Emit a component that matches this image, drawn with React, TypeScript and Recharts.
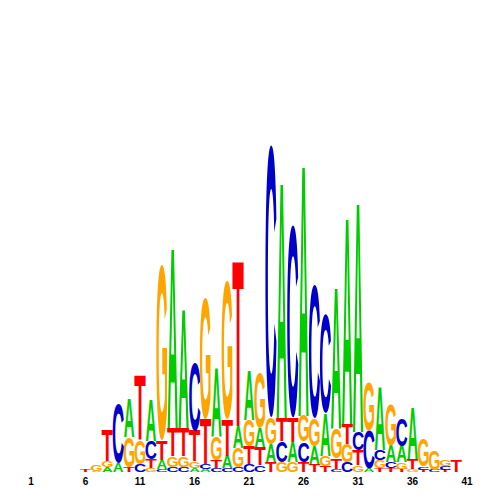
import { Bar, BarChart, XAxis, YAxis } from "recharts";

// Sequence logo, heights in bits (~170 px per bit).
const positions = [
  1, 2, 3, 4, 5, 6, 7, 8, 9, 10, 11, 12, 13, 14, 15, 16, 17, 18, 19, 20, 21,
  22, 23, 24, 25, 26, 27, 28, 29, 30, 31, 32, 33, 34, 35, 36, 37, 38, 39, 40, 41,
];

const A = [
  0, 0, 0, 0, 0, 0, 0.006, 0.029, 0.053, 0.224, 0, 0.241, 0.053, 1.047, 0.694,
  0.024, 0.018, 0.4, 0.071, 0.129, 0.282, 0.112, 0.106, 1.371, 0.118, 1.459,
  0.106, 0.247, 0.818, 1.2, 1.335, 0.018, 0.365, 0.094, 0.094, 0.3, 0, 0, 0, 0, 0,
];
const C = [
  0, 0, 0, 0, 0, 0, 0, 0, 0.353, 0, 0.047, 0.106, 0.018, 0.029, 0.029, 0.406,
  0.029, 0.024, 0.024, 0.029, 0.047, 0.041, 1.606, 0.124, 1.135, 0.118, 0.782,
  0.582, 0.018, 0.059, 0.106, 0.224, 0.059, 0.035, 0.165, 0, 0.018, 0.012, 0.024, 0, 0,
];
const G = [
  0, 0, 0, 0, 0, 0, 0.035, 0.035, 0, 0.176, 0.141, 0.024, 1.035, 0.065, 0.065,
  0.041, 0.712, 0.141, 0.818, 0.112, 0.153, 0.329, 0.153, 0.059, 0.059, 0.153,
  0.165, 0.059, 0.176, 0.106, 0.041, 0.288, 0.047, 0.241, 0.041, 0.018, 0.159,
  0.112, 0.041, 0, 0,
];
const T = [
  0, 0, 0, 0, 0, 0.012, 0, 0.182, 0, 0.029, 0.376, 0.053, 0.112, 0.165, 0.165,
  0.176, 0.265, 0.047, 0.212, 0.959, 0.106, 0.106, 0.059, 0.135, 0.141, 0.059,
  0.047, 0.035, 0.059, 0.118, 0.088, 0, 0.024, 0.024, 0.018, 0.059, 0.012, 0,
  0.012, 0.065, 0,
];

const heights: Record<string, number[]> = { A, C, G, T };
const LETTERS = ["A", "C", "G", "T"];
const COLORS: Record<string, string> = {
  A: "#00CC00",
  C: "#0000CC",
  G: "#FFA500",
  T: "#FF0000",
};
// glyph ink box of Liberation Sans Bold, in em (round letters overshoot the baseline)
const INK: Record<string, number> = { A: 0.72, C: 0.635, G: 0.685, T: 0.57 };
const TALL: Record<string, number> = { A: 0.688, C: 0.712, G: 0.712, T: 0.688 };
const DROP: Record<string, number> = { A: 0, C: 0.012, G: 0.012, T: 0 };

// smallest letter at the bottom of each column
const rows = positions.map((pos, i) => {
  const stack = LETTERS.map((l) => ({ l, h: heights[l][i] })).sort((a, b) => a.h - b.h);
  const row: Record<string, string | number> = { pos: String(pos) };
  stack.forEach((s, j) => {
    row[`h${j}`] = s.h;
    row[`k${j}`] = s.l;
  });
  return row;
});

const glyph = (layer: number) => (props: any) => {
  const { x, y, width, height, payload } = props;
  if (!height || height < 0.4) return <g />;
  const letter = payload[`k${layer}`] as string;
  const sx = (width * 0.98) / (INK[letter] * 100);
  const sy = height / (TALL[letter] * 100);
  const base = y + height - DROP[letter] * 100 * sy;
  return (
    <text
      transform={`translate(${x + width / 2},${base}) scale(${sx},${sy})`}
      x={0}
      y={0}
      fontSize={100}
      fontFamily="'Liberation Sans', Arial, sans-serif"
      fontWeight="bold"
      textAnchor="middle"
      fill={COLORS[letter]}
    >
      {letter}
    </text>
  );
};

export default function App() {
  return (
    <div style={{ position: "absolute", left: 0, top: 0, width: 500, height: 500, background: "#fff" }}>
      <BarChart
        width={500}
        height={500}
        data={rows}
        margin={{ top: 132, right: 27.5, bottom: 0, left: 25.5 }}
        barCategoryGap={0}
        barGap={0}
      >
        <XAxis
          dataKey="pos"
          interval={4}
          tickLine={false}
          axisLine={false}
          tickSize={0}
          tickMargin={6}
          height={28}
          tick={{ fontSize: 10, fontWeight: "bold", fill: "#000", fontFamily: "'Liberation Sans', Arial, sans-serif" }}
        />
        <YAxis hide domain={[0, 2]} />
        {[0, 1, 2, 3].map((j) => (
          <Bar
            key={j}
            dataKey={`h${j}`}
            stackId="logo"
            shape={glyph(j)}
            isAnimationActive={false}
          />
        ))}
      </BarChart>
    </div>
  );
}
